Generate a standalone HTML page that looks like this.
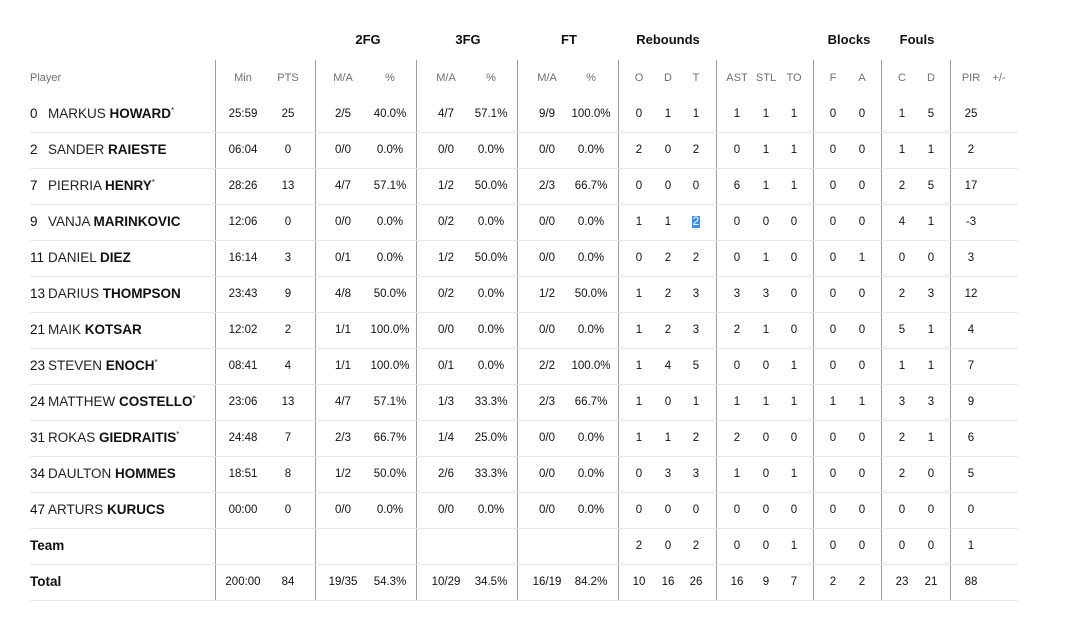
<!DOCTYPE html>
<html><head><meta charset="utf-8"><style>
html,body{margin:0;padding:0;background:#fff;}
body{width:1067px;height:619px;position:relative;overflow:hidden;font-family:"Liberation Sans",Arial,sans-serif;}
.v{position:absolute;top:60px;height:540px;width:1px;background:#9c9c9c;}
.h{position:absolute;left:30px;width:989px;height:1px;background:#e8e8e8;}
.g{position:absolute;top:30px;height:20px;line-height:20px;font-size:13px;font-weight:bold;color:#111;width:100px;text-align:center;}
.r{position:absolute;left:0;width:1067px;height:36px;line-height:36px;}
.r span{position:absolute;width:50px;text-align:center;font-size:11.5px;color:#111;}
.hd span{color:#6f6f6f;font-size:11px;}
.n{position:absolute;left:30px;font-size:13.5px;color:#222;white-space:nowrap;}
.n i{font-style:normal;display:inline-block;width:18px;color:#111;}
.n b{color:#111;}
.n sup{font-size:8px;vertical-align:5px;line-height:0;}
.c1{left:218px}.c2{left:263px}.c3{left:318px}.c4{left:365px}.c5{left:421px}.c6{left:466px}
.c7{left:522px}.c8{left:566px}.c9{left:614px}.c10{left:643px}.c11{left:671px}.c12{left:712px}
.c13{left:741px}.c14{left:769px}.c15{left:808px}.c16{left:837px}.c17{left:877px}.c18{left:906px}
.c19{left:946px}.c20{left:974px}
.hl{background:#3d8fe8;color:#fff;padding:0 1px;}
</style></head><body>
<div class="g" style="left:318px">2FG</div>
<div class="g" style="left:418px">3FG</div>
<div class="g" style="left:519px">FT</div>
<div class="g" style="left:618px">Rebounds</div>
<div class="g" style="left:799px">Blocks</div>
<div class="g" style="left:867px">Fouls</div>

<div class="v" style="left:215px"></div>
<div class="v" style="left:315px"></div>
<div class="v" style="left:416px"></div>
<div class="v" style="left:517px"></div>
<div class="v" style="left:618px"></div>
<div class="v" style="left:716px"></div>
<div class="v" style="left:813px"></div>
<div class="v" style="left:881px"></div>
<div class="v" style="left:950px"></div>

<div class="h" style="top:132px"></div><div class="h" style="top:168px"></div><div class="h" style="top:204px"></div>
<div class="h" style="top:240px"></div><div class="h" style="top:276px"></div><div class="h" style="top:312px"></div>
<div class="h" style="top:348px"></div><div class="h" style="top:384px"></div><div class="h" style="top:420px"></div>
<div class="h" style="top:456px"></div><div class="h" style="top:492px"></div><div class="h" style="top:528px"></div>
<div class="h" style="top:564px"></div><div class="h" style="top:600px"></div>

<div class="r hd" style="top:60px"><div class="n" style="font-size:11px;color:#6f6f6f">Player</div>
<span class="c1">Min</span><span class="c2">PTS</span><span class="c3">M/A</span><span class="c4">%</span><span class="c5">M/A</span><span class="c6">%</span><span class="c7">M/A</span><span class="c8">%</span><span class="c9">O</span><span class="c10">D</span><span class="c11">T</span><span class="c12">AST</span><span class="c13">STL</span><span class="c14">TO</span><span class="c15">F</span><span class="c16">A</span><span class="c17">C</span><span class="c18">D</span><span class="c19">PIR</span><span class="c20">+/-</span></div>

<div class="r" style="top:96px"><div class="n"><i>0</i>MARKUS <b>HOWARD</b><sup>*</sup></div>
<span class="c1">25:59</span><span class="c2">25</span><span class="c3">2/5</span><span class="c4">40.0%</span><span class="c5">4/7</span><span class="c6">57.1%</span><span class="c7">9/9</span><span class="c8">100.0%</span><span class="c9">0</span><span class="c10">1</span><span class="c11">1</span><span class="c12">1</span><span class="c13">1</span><span class="c14">1</span><span class="c15">0</span><span class="c16">0</span><span class="c17">1</span><span class="c18">5</span><span class="c19">25</span></div>

<div class="r" style="top:132px"><div class="n"><i>2</i>SANDER <b>RAIESTE</b></div>
<span class="c1">06:04</span><span class="c2">0</span><span class="c3">0/0</span><span class="c4">0.0%</span><span class="c5">0/0</span><span class="c6">0.0%</span><span class="c7">0/0</span><span class="c8">0.0%</span><span class="c9">2</span><span class="c10">0</span><span class="c11">2</span><span class="c12">0</span><span class="c13">1</span><span class="c14">1</span><span class="c15">0</span><span class="c16">0</span><span class="c17">1</span><span class="c18">1</span><span class="c19">2</span></div>

<div class="r" style="top:168px"><div class="n"><i>7</i>PIERRIA <b>HENRY</b><sup>*</sup></div>
<span class="c1">28:26</span><span class="c2">13</span><span class="c3">4/7</span><span class="c4">57.1%</span><span class="c5">1/2</span><span class="c6">50.0%</span><span class="c7">2/3</span><span class="c8">66.7%</span><span class="c9">0</span><span class="c10">0</span><span class="c11">0</span><span class="c12">6</span><span class="c13">1</span><span class="c14">1</span><span class="c15">0</span><span class="c16">0</span><span class="c17">2</span><span class="c18">5</span><span class="c19">17</span></div>

<div class="r" style="top:204px"><div class="n"><i>9</i>VANJA <b>MARINKOVIC</b></div>
<span class="c1">12:06</span><span class="c2">0</span><span class="c3">0/0</span><span class="c4">0.0%</span><span class="c5">0/2</span><span class="c6">0.0%</span><span class="c7">0/0</span><span class="c8">0.0%</span><span class="c9">1</span><span class="c10">1</span><span class="c11"><em class="hl" style="font-style:normal">2</em></span><span class="c12">0</span><span class="c13">0</span><span class="c14">0</span><span class="c15">0</span><span class="c16">0</span><span class="c17">4</span><span class="c18">1</span><span class="c19">-3</span></div>

<div class="r" style="top:240px"><div class="n"><i>11</i>DANIEL <b>DIEZ</b></div>
<span class="c1">16:14</span><span class="c2">3</span><span class="c3">0/1</span><span class="c4">0.0%</span><span class="c5">1/2</span><span class="c6">50.0%</span><span class="c7">0/0</span><span class="c8">0.0%</span><span class="c9">0</span><span class="c10">2</span><span class="c11">2</span><span class="c12">0</span><span class="c13">1</span><span class="c14">0</span><span class="c15">0</span><span class="c16">1</span><span class="c17">0</span><span class="c18">0</span><span class="c19">3</span></div>

<div class="r" style="top:276px"><div class="n"><i>13</i>DARIUS <b>THOMPSON</b></div>
<span class="c1">23:43</span><span class="c2">9</span><span class="c3">4/8</span><span class="c4">50.0%</span><span class="c5">0/2</span><span class="c6">0.0%</span><span class="c7">1/2</span><span class="c8">50.0%</span><span class="c9">1</span><span class="c10">2</span><span class="c11">3</span><span class="c12">3</span><span class="c13">3</span><span class="c14">0</span><span class="c15">0</span><span class="c16">0</span><span class="c17">2</span><span class="c18">3</span><span class="c19">12</span></div>

<div class="r" style="top:312px"><div class="n"><i>21</i>MAIK <b>KOTSAR</b></div>
<span class="c1">12:02</span><span class="c2">2</span><span class="c3">1/1</span><span class="c4">100.0%</span><span class="c5">0/0</span><span class="c6">0.0%</span><span class="c7">0/0</span><span class="c8">0.0%</span><span class="c9">1</span><span class="c10">2</span><span class="c11">3</span><span class="c12">2</span><span class="c13">1</span><span class="c14">0</span><span class="c15">0</span><span class="c16">0</span><span class="c17">5</span><span class="c18">1</span><span class="c19">4</span></div>

<div class="r" style="top:348px"><div class="n"><i>23</i>STEVEN <b>ENOCH</b><sup>*</sup></div>
<span class="c1">08:41</span><span class="c2">4</span><span class="c3">1/1</span><span class="c4">100.0%</span><span class="c5">0/1</span><span class="c6">0.0%</span><span class="c7">2/2</span><span class="c8">100.0%</span><span class="c9">1</span><span class="c10">4</span><span class="c11">5</span><span class="c12">0</span><span class="c13">0</span><span class="c14">1</span><span class="c15">0</span><span class="c16">0</span><span class="c17">1</span><span class="c18">1</span><span class="c19">7</span></div>

<div class="r" style="top:384px"><div class="n"><i>24</i>MATTHEW <b>COSTELLO</b><sup>*</sup></div>
<span class="c1">23:06</span><span class="c2">13</span><span class="c3">4/7</span><span class="c4">57.1%</span><span class="c5">1/3</span><span class="c6">33.3%</span><span class="c7">2/3</span><span class="c8">66.7%</span><span class="c9">1</span><span class="c10">0</span><span class="c11">1</span><span class="c12">1</span><span class="c13">1</span><span class="c14">1</span><span class="c15">1</span><span class="c16">1</span><span class="c17">3</span><span class="c18">3</span><span class="c19">9</span></div>

<div class="r" style="top:420px"><div class="n"><i>31</i>ROKAS <b>GIEDRAITIS</b><sup>*</sup></div>
<span class="c1">24:48</span><span class="c2">7</span><span class="c3">2/3</span><span class="c4">66.7%</span><span class="c5">1/4</span><span class="c6">25.0%</span><span class="c7">0/0</span><span class="c8">0.0%</span><span class="c9">1</span><span class="c10">1</span><span class="c11">2</span><span class="c12">2</span><span class="c13">0</span><span class="c14">0</span><span class="c15">0</span><span class="c16">0</span><span class="c17">2</span><span class="c18">1</span><span class="c19">6</span></div>

<div class="r" style="top:456px"><div class="n"><i>34</i>DAULTON <b>HOMMES</b></div>
<span class="c1">18:51</span><span class="c2">8</span><span class="c3">1/2</span><span class="c4">50.0%</span><span class="c5">2/6</span><span class="c6">33.3%</span><span class="c7">0/0</span><span class="c8">0.0%</span><span class="c9">0</span><span class="c10">3</span><span class="c11">3</span><span class="c12">1</span><span class="c13">0</span><span class="c14">1</span><span class="c15">0</span><span class="c16">0</span><span class="c17">2</span><span class="c18">0</span><span class="c19">5</span></div>

<div class="r" style="top:492px"><div class="n"><i>47</i>ARTURS <b>KURUCS</b></div>
<span class="c1">00:00</span><span class="c2">0</span><span class="c3">0/0</span><span class="c4">0.0%</span><span class="c5">0/0</span><span class="c6">0.0%</span><span class="c7">0/0</span><span class="c8">0.0%</span><span class="c9">0</span><span class="c10">0</span><span class="c11">0</span><span class="c12">0</span><span class="c13">0</span><span class="c14">0</span><span class="c15">0</span><span class="c16">0</span><span class="c17">0</span><span class="c18">0</span><span class="c19">0</span></div>

<div class="r" style="top:528px"><div class="n"><b>Team</b></div>
<span class="c9">2</span><span class="c10">0</span><span class="c11">2</span><span class="c12">0</span><span class="c13">0</span><span class="c14">1</span><span class="c15">0</span><span class="c16">0</span><span class="c17">0</span><span class="c18">0</span><span class="c19">1</span></div>

<div class="r" style="top:564px"><div class="n"><b>Total</b></div>
<span class="c1">200:00</span><span class="c2">84</span><span class="c3">19/35</span><span class="c4">54.3%</span><span class="c5">10/29</span><span class="c6">34.5%</span><span class="c7">16/19</span><span class="c8">84.2%</span><span class="c9">10</span><span class="c10">16</span><span class="c11">26</span><span class="c12">16</span><span class="c13">9</span><span class="c14">7</span><span class="c15">2</span><span class="c16">2</span><span class="c17">23</span><span class="c18">21</span><span class="c19">88</span></div>
</body></html>
